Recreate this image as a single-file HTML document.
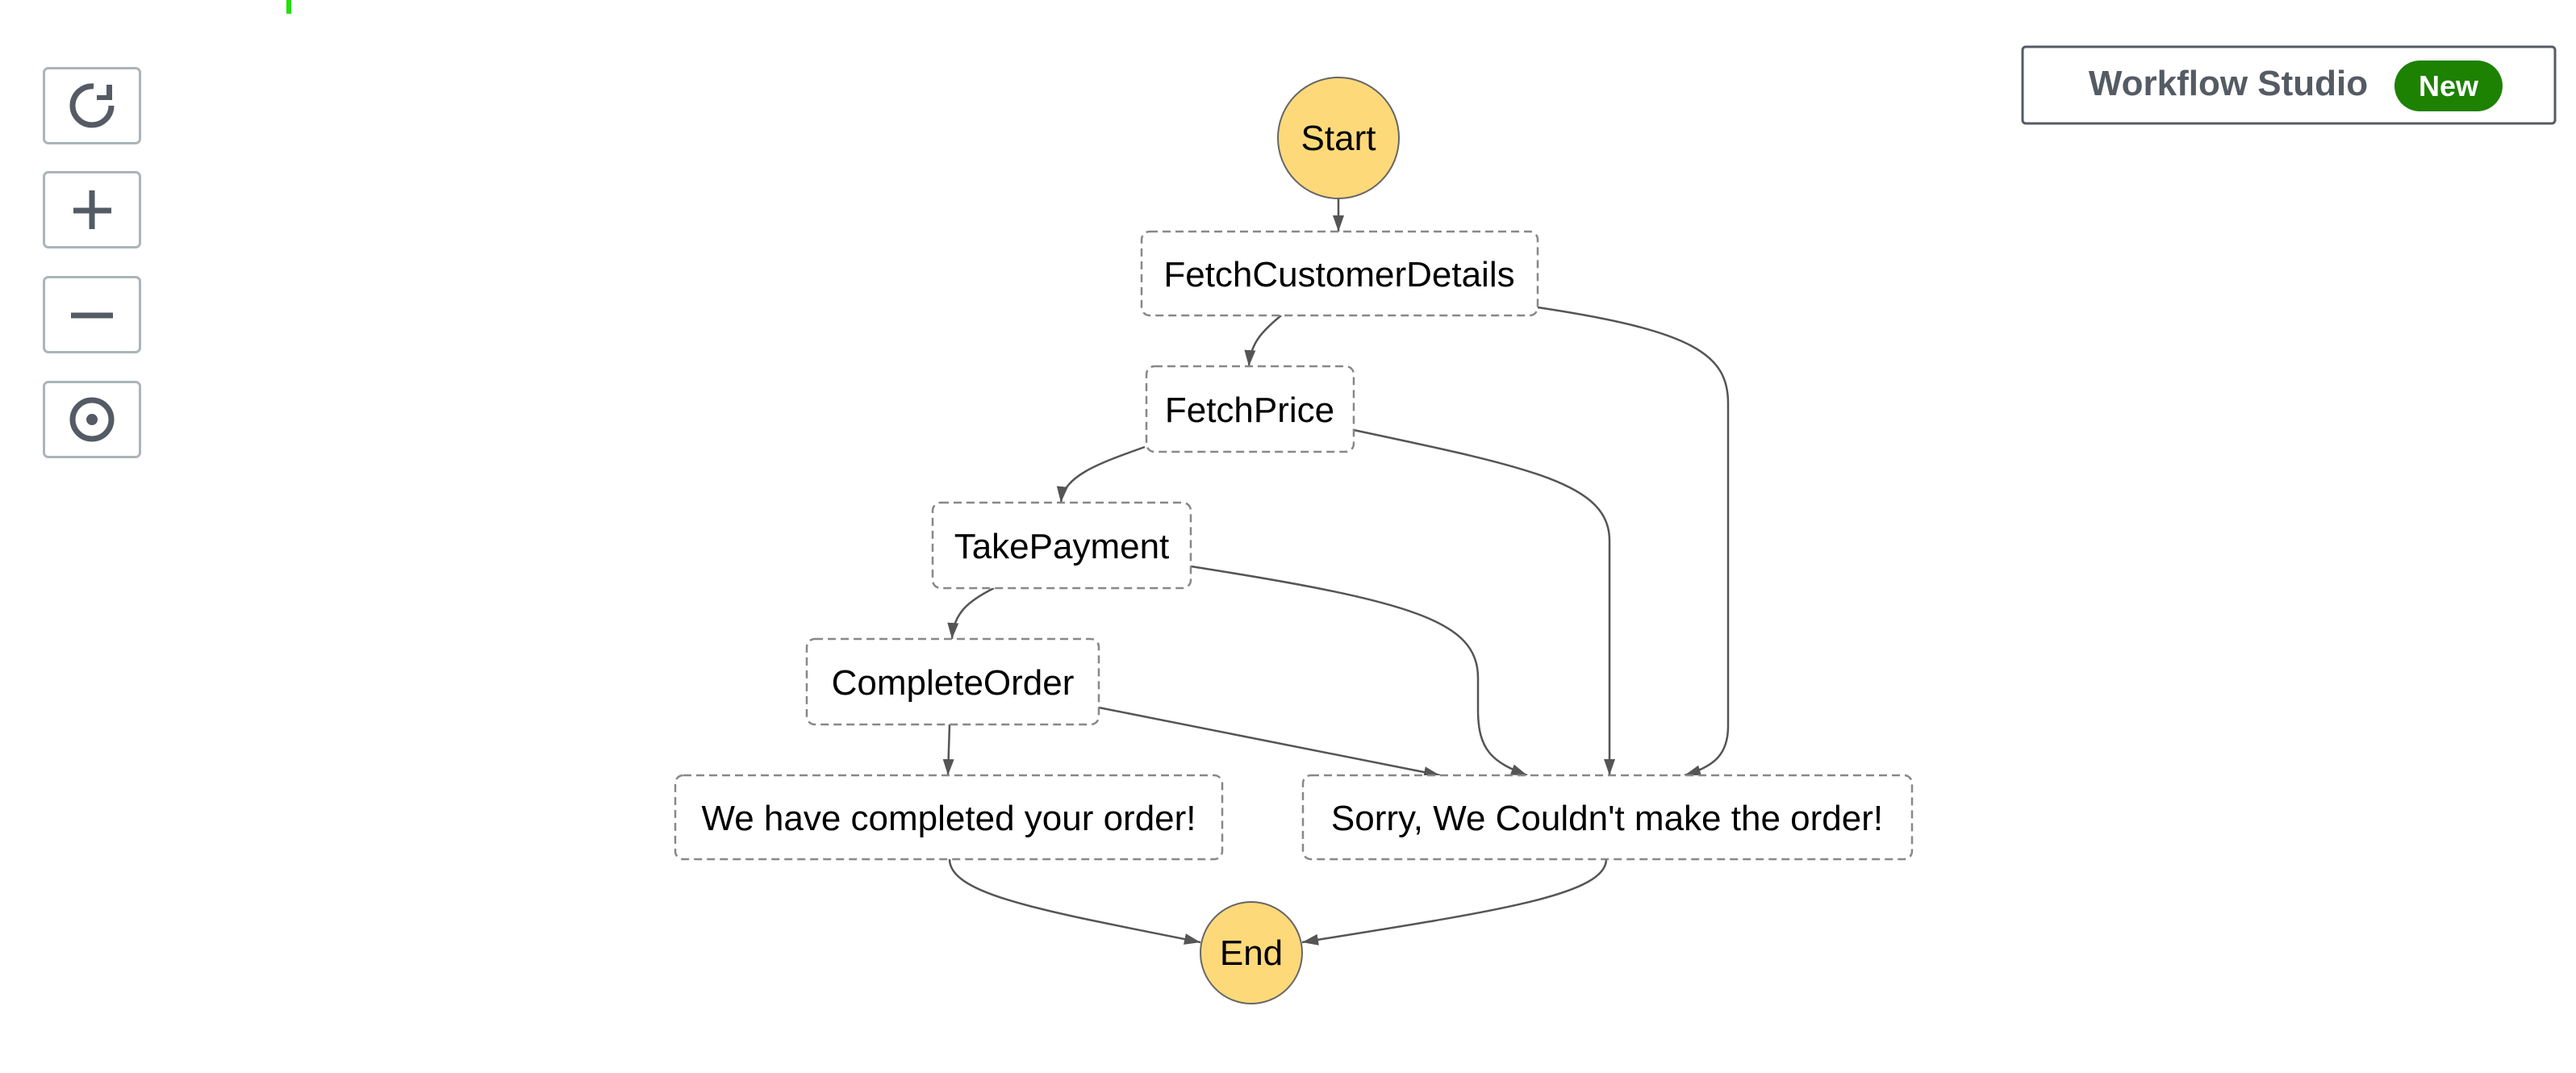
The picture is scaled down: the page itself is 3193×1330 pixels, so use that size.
<!DOCTYPE html>
<html><head><meta charset="utf-8"><style>
html,body{margin:0;padding:0;background:#fff;width:3193px;height:1330px;overflow:hidden;font-family:"Liberation Sans",sans-serif}
.btn{position:absolute;left:53px;width:122px;height:96px;border:3px solid #aab5b8;border-radius:7px;box-sizing:border-box;background:#fff}
</style></head><body>
<div style="position:absolute;left:355px;top:0;width:6px;height:17px;background:#22e000"></div>
<div class="btn" style="top:83px"></div>
<div class="btn" style="top:212px"></div>
<div class="btn" style="top:342px"></div>
<div class="btn" style="top:472px"></div>
<svg style="position:absolute;left:0;top:0" width="3193" height="1330" viewBox="0 0 3193 1330">
<defs>
<marker id="b" markerWidth="22" markerHeight="22" refX="20" refY="11" orient="auto" markerUnits="userSpaceOnUse"><path d="M0,4 L20,11 L0,18z" fill="#555"/></marker></defs>
<!-- button icons -->
<g stroke="#555b64" stroke-width="7" fill="none">
<path d="M138,131 A24,24 0 1 1 116,107"/>
<line x1="114" y1="236" x2="114" y2="284"/><line x1="91" y1="261" x2="138" y2="261"/>
<line x1="88" y1="391" x2="140" y2="391"/>
<circle cx="114" cy="520" r="24"/>
</g>
<path d="M132,105 L139,105 L139,124 L120,124 L120,118 L132,118z" fill="#555b64"/>
<circle cx="114" cy="520" r="7" fill="#555b64"/>
<!-- workflow studio -->
<rect x="2507" y="58" width="660" height="95" rx="4" fill="#fff" stroke="#555b64" stroke-width="3"/>
<text x="2762" y="118" text-anchor="middle" font-family="Liberation Sans" font-weight="bold" font-size="44" fill="#555b64">Workflow Studio</text>
<rect x="2968" y="75" width="134" height="63" rx="31.5" fill="#1d8102"/>
<text x="3035" y="119" text-anchor="middle" font-family="Liberation Sans" font-weight="bold" font-size="36" fill="#fff">New</text>
<!-- edges -->
<g stroke="#555" stroke-width="2.5" fill="none" marker-end="url(#b)">
<path d="M1659,246 L1659,287"/>
<path d="M1588,391 C1565,410 1550,425 1548,454"/>
<path d="M1906,381 C2100,410 2142,440 2142,500 L2142,900 C2142,935 2125,950 2088,961"/>
<path d="M1419,554 C1360,575 1318,590 1315,623"/>
<path d="M1678,533 C1900,580 1995,600 1995,670 L1995,961"/>
<path d="M1232,729 C1200,745 1182,760 1180,792"/>
<path d="M1476,702 C1750,745 1832,770 1832,840 L1832,880 C1832,930 1850,945 1893,961"/>
<path d="M1362,877 L1785,961"/>
<path d="M1177,898 L1175,961"/>
<path d="M1177,1065 C1177,1110 1300,1130 1488,1168"/>
<path d="M1991,1065 C1991,1110 1850,1130 1614,1168"/>
</g>
<!-- nodes -->
<g fill="#fff" stroke="#888" stroke-width="2.5" stroke-dasharray="10,6">
<rect x="1415" y="287" width="491" height="104" rx="10"/>
<rect x="1421" y="454" width="257" height="106" rx="10"/>
<rect x="1156" y="623" width="320" height="106" rx="10"/>
<rect x="1000" y="792" width="362" height="106" rx="10"/>
<rect x="837" y="961" width="678" height="104" rx="10"/>
<rect x="1615" y="961" width="755" height="104" rx="10"/>
</g>
<circle cx="1659" cy="171" r="75" fill="#fed97a" stroke="#666" stroke-width="2"/>
<circle cx="1551" cy="1181" r="63" fill="#fed97a" stroke="#666" stroke-width="2"/>
<g font-family="Liberation Sans" font-size="44" fill="#000" text-anchor="middle">
<text x="1659" y="186">Start</text>
<text x="1660" y="355">FetchCustomerDetails</text>
<text x="1549" y="523">FetchPrice</text>
<text x="1316" y="692">TakePayment</text>
<text x="1181" y="861">CompleteOrder</text>
<text x="1176" y="1029">We have completed your order!</text>
<text x="1992" y="1029">Sorry, We Couldn't make the order!</text>
<text x="1551" y="1196">End</text>
</g>
</svg>
</body></html>
